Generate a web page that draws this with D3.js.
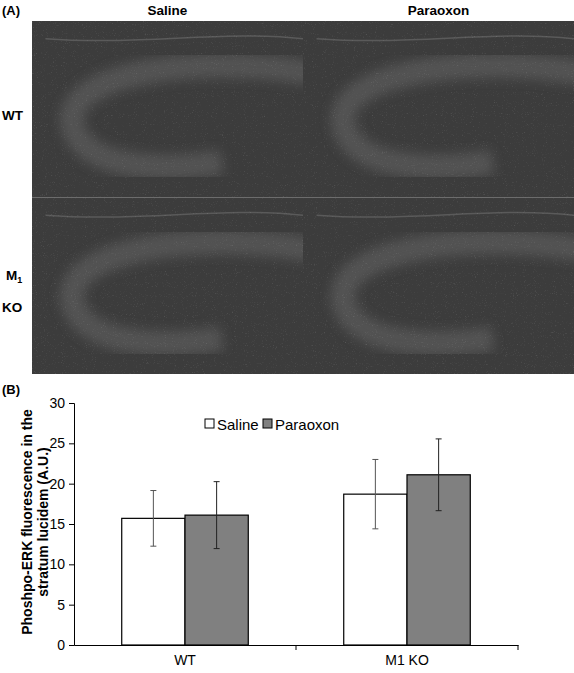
<!DOCTYPE html><html><head><meta charset="utf-8"><script src="https://cdn.jsdelivr.net/npm/d3@7"></script>
<style>body{margin:0;background:#fff}text{font-family:"Liberation Sans",Arial,sans-serif}</style></head><body>
<svg id="c" width="574" height="673"></svg>
<script>
const categories=["WT","M1 KO"];
const series=["Saline","Paraoxon"];
const saline=[15.7,18.7];
const paraoxon=[16.1,21.1];
const salineErr=[3.45,4.3];
const paraoxonErr=[4.15,4.45];
const yTicks=[0,5,10,15,20,25,30];
const colors=["#ffffff","#808080"];
const svg=d3.select("#c");
svg.append("text").attr("x",2).attr("y",15).attr("font-size",13).attr("font-weight","bold").text("(A)");
const cols=["Saline","Paraoxon"];
const px=d3.scaleBand().domain(cols).range([32,574]);
const py=d3.scaleBand().domain(["WT","M1KO"]).range([21,374]);
cols.forEach(c=>svg.append("text").attr("x",px(c)+px.bandwidth()/2).attr("y",15).attr("text-anchor","middle").attr("font-size",13.5).attr("font-weight","bold").text(c));
const defs=svg.append("defs");
const f=defs.append("filter").attr("id","n").attr("x",0).attr("y",0).attr("width",1).attr("height",1);
f.append("feTurbulence").attr("type","fractalNoise").attr("baseFrequency",0.9).attr("numOctaves",2).attr("result","t");
f.append("feColorMatrix").attr("type","matrix").attr("values","0 0 0 0 1  0 0 0 0 1  0 0 0 0 1  0 0 0 0.9 -0.55");
f.append("feComposite").attr("in2","SourceGraphic").attr("operator","in");
defs.append("filter").attr("id","b").append("feGaussianBlur").attr("stdDeviation",6);
["WT","M1KO"].forEach((r,ri)=>cols.forEach((c,ci)=>{
  const x=px(c),y=py(r),w=px.bandwidth(),h=py.bandwidth();
  const g=svg.append("g");
  g.append("rect").attr("x",x).attr("y",y).attr("width",w).attr("height",h).attr("fill","#3c3c3c");
  const cl="clip"+ri+ci;
  defs.append("clipPath").attr("id",cl).append("rect").attr("x",x).attr("y",y).attr("width",w).attr("height",h);
  const gg=g.append("g").attr("clip-path",`url(#${cl})`);
  const p=d3.path();
  p.moveTo(x+w*1.05,y+h*0.3);
  p.bezierCurveTo(x+w*0.6,y+h*0.18,x+w*0.1,y+h*0.3,x+w*0.15,y+h*0.6);
  p.bezierCurveTo(x+w*0.2,y+h*0.85,x+w*0.5,y+h*0.85,x+w*0.7,y+h*0.8);
  gg.append("path").attr("d",p.toString()).attr("fill","none").attr("stroke","#525252").attr("stroke-width",24).attr("filter","url(#b)");
  const p2=d3.path();
  p2.moveTo(x+w*0.05,y+h*0.1);
  p2.bezierCurveTo(x+w*0.4,y+h*0.14,x+w*0.7,y+h*0.05,x+w,y+h*0.1);
  gg.append("path").attr("d",p2.toString()).attr("fill","none").attr("stroke","#5a5a5a").attr("stroke-width",1.5);
  gg.append("rect").attr("x",x).attr("y",y).attr("width",w).attr("height",h).attr("fill","#fff").attr("filter","url(#n)").attr("opacity",0.45);
}));
svg.append("text").attr("x",2).attr("y",120).attr("font-size",13.5).attr("font-weight","bold").text("WT");
const m=svg.append("text").attr("x",6).attr("y",280).attr("font-size",13.5).attr("font-weight","bold");
m.append("tspan").text("M");m.append("tspan").attr("font-size",9).attr("dy",3).text("1");
svg.append("text").attr("x",2).attr("y",312).attr("font-size",13.5).attr("font-weight","bold").text("KO");
svg.append("text").attr("x",2).attr("y",394).attr("font-size",13).attr("font-weight","bold").text("(B)");
const y=d3.scaleLinear().domain([0,30]).range([645,403]);
const x0=d3.scaleBand().domain(categories).range([74,518]).paddingInner(0.43).paddingOuter(0.215);
const x1=d3.scaleBand().domain(series).range([0,x0.bandwidth()]);
const ya=svg.append("g").attr("transform","translate(74,0)").call(d3.axisLeft(y).tickValues(yTicks).tickSize(5).tickPadding(4));
const xa=svg.append("g").attr("transform","translate(0,645)").call(d3.axisBottom(x0).tickSize(0).tickPadding(10));
[ya,xa].forEach(a=>{a.select(".domain").attr("stroke","#000");a.selectAll("text").attr("font-size",14).attr("fill","#000").attr("font-family","Liberation Sans, Arial")});
xa.append("line").attr("x1",296).attr("x2",296).attr("y1",0).attr("y2",5).attr("stroke","#000");
xa.append("line").attr("x1",518).attr("x2",518).attr("y1",0).attr("y2",5).attr("stroke","#000");
const vals=[saline,paraoxon],errs=[salineErr,paraoxonErr];
series.forEach((s,si)=>categories.forEach((c,ci)=>{
  const v=vals[si][ci],e=errs[si][ci],bx=x0(c)+x1(s),bw=x1.bandwidth();
  svg.append("rect").attr("x",bx).attr("y",y(v)).attr("width",bw).attr("height",y(0)-y(v)).attr("fill",colors[si]).attr("stroke","#000").attr("stroke-width",1.2);
  const cx=bx+bw/2,st=si?"#222":"#555";
  svg.append("line").attr("x1",cx).attr("x2",cx).attr("y1",y(v+e)).attr("y2",y(v-e)).attr("stroke",st);
  [v+e,v-e].forEach(t=>svg.append("line").attr("x1",cx-3).attr("x2",cx+3).attr("y1",y(t)).attr("y2",y(t)).attr("stroke",st));
}));
const lg=svg.append("g").attr("transform","translate(205,424)");
series.forEach((s,i)=>{const gx=i?58:0;
  lg.append("rect").attr("x",gx).attr("y",-5).attr("width",9).attr("height",9).attr("fill",colors[i]).attr("stroke","#000");
  lg.append("text").attr("x",gx+12).attr("y",6).attr("font-size",15).text(s);});
const yl=svg.append("text").attr("transform","rotate(-90)").attr("text-anchor","middle").attr("font-size",14).attr("font-weight","bold");
yl.append("tspan").attr("x",-522).attr("y",32).text("Phoshpo-ERK fluorescence in the");
yl.append("tspan").attr("x",-522).attr("y",48).text("stratum lucidem (A.U.)");
</script></body></html>
